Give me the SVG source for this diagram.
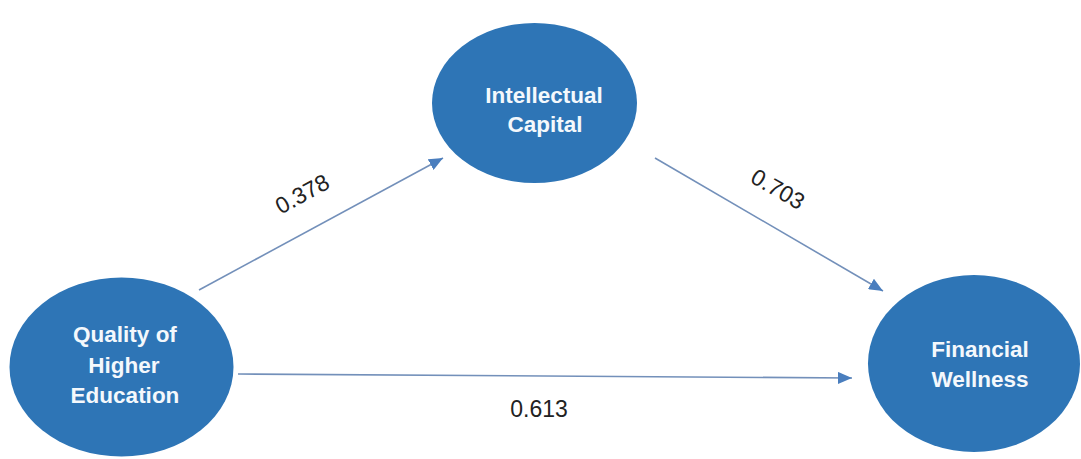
<svg xmlns="http://www.w3.org/2000/svg" width="1081" height="459" viewBox="0 0 1081 459">
  <style>
    .node { fill: #2E75B6; }
    .nlabel { font-family: "Liberation Sans", Arial, sans-serif; font-weight: bold; font-size: 22.5px; fill: #F4F8FC; text-anchor: middle; }
    .conn { stroke: #7390BA; stroke-width: 1.6; fill: none; }
    .elabel { font-family: "Liberation Sans", Arial, sans-serif; font-size: 23px; fill: #222222; text-anchor: middle; }
  </style>
  <defs>
    <marker id="arrow" viewBox="0 0 14 12" refX="14" refY="6" markerWidth="14" markerHeight="12" markerUnits="userSpaceOnUse" orient="auto">
      <path d="M0,0 L14,6 L0,12 Z" fill="#4A7EBE"/>
    </marker>
  </defs>
  <rect width="1081" height="459" fill="#FFFFFF"/>

  <g id="connectors">
    <line class="conn" x1="199" y1="290" x2="443" y2="158" marker-end="url(#arrow)"/>
    <line class="conn" x1="655" y1="158" x2="883" y2="291" marker-end="url(#arrow)"/>
    <line class="conn" x1="238" y1="374" x2="852" y2="378" marker-end="url(#arrow)"/>
    <text class="elabel" transform="translate(306,201) rotate(-28.5)">0.378</text>
    <text class="elabel" transform="translate(774,196) rotate(30)">0.703</text>
    <text class="elabel" x="539" y="417">0.613</text>
  </g>

  <g id="node-intellectual-capital">
    <ellipse class="node" cx="534.5" cy="103" rx="102.5" ry="80"/>
    <text class="nlabel" x="544" y="103">Intellectual</text>
    <text class="nlabel" x="545" y="132">Capital</text>
  </g>

  <g id="node-quality-higher-education">
    <ellipse class="node" cx="121.5" cy="367" rx="112" ry="89.5"/>
    <text class="nlabel" x="125" y="342">Quality of</text>
    <text class="nlabel" x="124" y="373">Higher</text>
    <text class="nlabel" x="125" y="403">Education</text>
  </g>

  <g id="node-financial-wellness">
    <ellipse class="node" cx="974" cy="363.5" rx="106" ry="88.5"/>
    <text class="nlabel" x="980" y="357">Financial</text>
    <text class="nlabel" x="980" y="387">Wellness</text>
  </g>
</svg>
